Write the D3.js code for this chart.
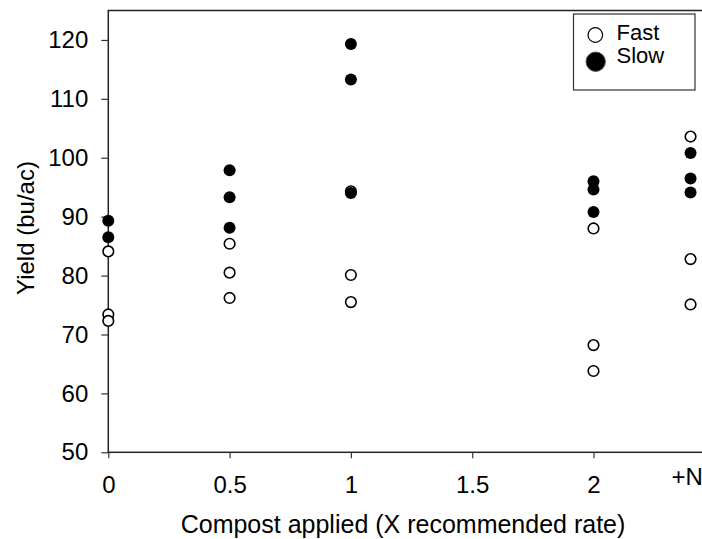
<!DOCTYPE html>
<html>
<head>
<meta charset="utf-8">
<script src="https://cdn.jsdelivr.net/npm/d3@7"></script>
<style>
  html, body { margin: 0; padding: 0; background: #fff; }
  svg { display: block; font-family: "Liberation Sans", Arial, Helvetica, sans-serif; }
</style>
</head>
<body>
<svg id="chart" width="702" height="539"></svg>
<script>
// Compost rate positions (X recommended rate); the +N treatment sits at 2.4
const xTicks = [0, 0.5, 1, 1.5, 2];
const xTickLabels = ["0", "0.5", "1", "1.5", "2"];
const nPosition = 2.4;
const nLabel = "+N";
const yTicks = [50, 60, 70, 80, 90, 100, 110, 120];

// Yield observations (bu/ac) per treatment
const fastX = [0, 0, 0, 0.5, 0.5, 0.5, 1, 1, 1, 2, 2, 2, 2.4, 2.4, 2.4];
const fastY = [84.1, 73.4, 72.3, 85.4, 80.5, 76.2, 94.3, 80.1, 75.5, 88.0, 68.2, 63.8, 103.6, 82.8, 75.1];
const slowX = [0, 0, 0.5, 0.5, 0.5, 1, 1, 1, 2, 2, 2, 2.4, 2.4, 2.4];
const slowY = [89.3, 86.5, 97.9, 93.3, 88.1, 119.3, 113.3, 94.0, 96.0, 94.6, 90.8, 100.8, 96.5, 94.1];

const seriesNames = ["Fast", "Slow"];

const svg = d3.select("#chart");
const plotLeft = 108.3, plotTop = 10.5, plotBottom = 452.3;
const fontAxis = "Liberation Sans, Arial, sans-serif";

const x = d3.scaleLinear().domain([0, 2.5]).range([plotLeft, 714.8]);
const y = d3.scaleLinear().domain([50, 125]).range([plotBottom, plotTop]);

// Frame (right edge runs past the canvas)
svg.append("rect")
  .attr("x", x(0)).attr("y", y(125))
  .attr("width", x(2.5) - x(0)).attr("height", y(50) - y(125))
  .attr("fill", "none").attr("stroke", "#222").attr("stroke-width", 1.5);

// Y axis
const yAxis = svg.append("g")
  .attr("transform", `translate(${plotLeft},0)`)
  .call(d3.axisLeft(y).tickValues(yTicks).tickSize(7).tickPadding(13));
yAxis.select(".domain").remove();
yAxis.selectAll(".tick line").attr("stroke", "#333").attr("stroke-width", 1.2);
yAxis.selectAll(".tick text")
  .attr("font-size", 24).attr("fill", "#000").attr("font-family", fontAxis);

// X axis
const xAxis = svg.append("g")
  .attr("transform", `translate(0,${plotBottom})`)
  .call(d3.axisBottom(x).tickValues(xTicks)
    .tickFormat((d, i) => xTickLabels[i]).tickSize(6).tickPadding(18));
xAxis.select(".domain").remove();
xAxis.selectAll(".tick line").attr("stroke", "#333").attr("stroke-width", 1.2);
xAxis.selectAll(".tick text")
  .attr("font-size", 24).attr("fill", "#000").attr("font-family", fontAxis);

// +N treatment label
svg.append("text")
  .attr("x", x(nPosition) - 19).attr("y", 485)
  .attr("font-size", 24)
  .text(nLabel);

// Axis titles
svg.append("text")
  .attr("x", 403).attr("y", 532.5)
  .attr("text-anchor", "middle")
  .attr("font-size", 25)
  .text("Compost applied (X recommended rate)");

svg.append("text")
  .attr("transform", "translate(33.5,228) rotate(-90)")
  .attr("text-anchor", "middle")
  .attr("font-size", 24)
  .text("Yield (bu/ac)");

// Points: open circles for Fast, filled for Slow
svg.append("g").selectAll("circle")
  .data(fastX.map((v, i) => [v, fastY[i]]))
  .join("circle")
  .attr("cx", d => x(d[0])).attr("cy", d => y(d[1]))
  .attr("r", 5.3)
  .attr("fill", "#fff").attr("stroke", "#000").attr("stroke-width", 1.6);

svg.append("g").selectAll("circle")
  .data(slowX.map((v, i) => [v, slowY[i]]))
  .join("circle")
  .attr("cx", d => x(d[0])).attr("cy", d => y(d[1]))
  .attr("r", 6)
  .attr("fill", "#000");

// Legend
const legend = svg.append("g");
legend.append("rect")
  .attr("x", 573.5).attr("y", 14)
  .attr("width", 121.5).attr("height", 76)
  .attr("fill", "#fff").attr("stroke", "#333").attr("stroke-width", 1.2);
legend.append("circle")
  .attr("cx", 595.3).attr("cy", 35).attr("r", 7.3)
  .attr("fill", "#fff").attr("stroke", "#000").attr("stroke-width", 1.2);
legend.append("circle")
  .attr("cx", 595.7).attr("cy", 61.7).attr("r", 9.7)
  .attr("fill", "#000").attr("stroke", "#555").attr("stroke-width", 1);
legend.selectAll("text.lbl")
  .data(seriesNames)
  .join("text")
  .attr("class", "lbl")
  .attr("x", 616.5).attr("y", (d, i) => 40 + i * 23.3)
  .attr("font-size", 22)
  .text(d => d);
</script>
</body>
</html>
